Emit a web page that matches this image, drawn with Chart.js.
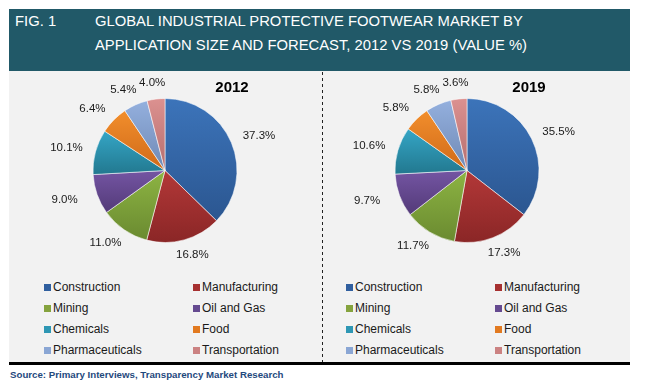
<!DOCTYPE html>
<html>
<head>
<meta charset="utf-8">
<script src="https://cdn.jsdelivr.net/npm/chart.js@4/dist/chart.umd.min.js"></script>
<style>
  html, body { margin: 0; padding: 0; background: #ffffff; }
  body { width: 645px; height: 387px; position: relative; overflow: hidden; font-family: "Liberation Sans", Arial, sans-serif; }
  #header { position: absolute; left: 9px; top: 9px; width: 621px; height: 62px; background: #215968; }
  .htxt { position: absolute; color: #ffffff; font-size: 14.8px; line-height: 16px; white-space: nowrap; }
  #panel { position: absolute; left: 9px; top: 71px; width: 621px; height: 291px; background: #f2f2f2; }
  #divider { position: absolute; left: 322px; top: 72px; width: 1px; height: 290px;
             background: repeating-linear-gradient(to bottom, #222 0px, #222 3px, transparent 3px, transparent 6px); }
  #rule { position: absolute; left: 9px; top: 362px; width: 621px; height: 3px; background: #000; }
  #source { position: absolute; left: 10px; top: 369px; font-size: 9.7px; font-weight: bold; color: #1f497d; white-space: nowrap; line-height: 12px; }
  .year { position: absolute; font-size: 15px; font-weight: bold; color: #000; line-height: 18px; transform: translateX(-50%); }
  .cv { position: absolute; }
  .leg { position: absolute; font-size: 12px; color: #1a1a1a; line-height: 14px; white-space: nowrap; }
  .sq { position: absolute; width: 7px; height: 7px; }
</style>
</head>
<body>
<div id="header">
  <div class="htxt" style="left:6px; top:4px;">FIG. 1</div>
  <div class="htxt" style="left:86px; top:4px;">GLOBAL INDUSTRIAL PROTECTIVE FOOTWEAR MARKET BY</div>
  <div class="htxt" style="left:86px; top:28px;">APPLICATION SIZE AND FORECAST, 2012 VS 2019 (VALUE %)</div>
</div>
<div id="panel"></div>
<div id="divider"></div>
<div id="rule"></div>
<div id="source">Source: Primary Interviews, Transparency Market Research</div>

<canvas id="c2012" class="cv" width="314" height="200" style="left:9px; top:71px; width:314px; height:200px;"></canvas>
<canvas id="c2019" class="cv" width="307" height="200" style="left:323px; top:71px; width:307px; height:200px;"></canvas>
<div id="extras"></div>

<script>
// ---- data ----
const categories = ['Construction', 'Manufacturing', 'Mining', 'Oil and Gas', 'Chemicals', 'Food', 'Pharmaceuticals', 'Transportation'];
const values2012 = [37.3, 16.8, 11.0, 9.0, 10.1, 6.4, 5.4, 4.0];
const values2019 = [35.5, 17.3, 11.7, 9.7, 10.6, 5.8, 5.8, 3.6];
const years = ['2012', '2019'];

// ---- styles ----
const topColors    = ['#3c74ba', '#b33838', '#8db443', '#7455a3', '#35a6c6', '#f28e2c', '#94b0de', '#dc9190'];
const bottomColors = ['#2b5690', '#8a2626', '#6a8a30', '#533a78', '#22788f', '#cf6a19', '#6f89b5', '#b56e6e'];
const legendColors = ['#305f9f', '#a63030', '#85a33e', '#654a90', '#2e97b4', '#e27a20', '#8aa6d4', '#cb8282'];

function sliceGradient(ctx) {
  const i = ctx.dataIndex;
  if (i === undefined) return legendColors[0];
  const chart = ctx.chart, area = chart.chartArea;
  if (!area || !area.width) return legendColors[i];
  const data = ctx.dataset.data;
  const total = data.reduce((a, b) => a + b, 0);
  let cum = 0;
  for (let k = 0; k < i; k++) cum += data[k];
  const a0 = -Math.PI / 2 + 2 * Math.PI * cum / total;
  const a1 = a0 + 2 * Math.PI * data[i] / total;
  const cy = (area.top + area.bottom) / 2;
  const R = Math.min(area.width, area.height) / 2;
  const ys = [cy, cy + R * Math.sin(a0), cy + R * Math.sin(a1)];
  [-Math.PI / 2, Math.PI / 2, 3 * Math.PI / 2].forEach(t => { if (t >= a0 && t <= a1) ys.push(cy + R * Math.sin(t)); });
  const top = Math.min(...ys), bot = Math.max(...ys);
  const g = chart.ctx.createLinearGradient(0, top, 0, bot + 0.01);
  g.addColorStop(0, topColors[i]);
  g.addColorStop(1, bottomColors[i]);
  return g;
}

const outLabels = {
  id: 'outLabels',
  afterDatasetsDraw(chart) {
    const c = chart.ctx;
    const meta = chart.getDatasetMeta(0);
    const data = chart.data.datasets[0].data;
    c.save();
    c.font = '11.5px "Liberation Sans", Arial, sans-serif';
    c.fillStyle = '#1a1a1a';
    c.textAlign = 'center';
    c.textBaseline = 'middle';
    meta.data.forEach((arc, i) => {
      const p = arc.getProps(['x', 'y', 'startAngle', 'endAngle', 'outerRadius'], true);
      const m = (p.startAngle + p.endAngle) / 2;
      const cs = Math.cos(m), sn = Math.sin(m);
      // wider horizontal reach for lower labels, as in the source
      const rx = p.outerRadius + 30 + (sn > 0 ? 10 * sn * (1 - Math.abs(sn)) * 2 : 0);
      const lx = p.x + cs * rx;
      const ly = p.y + sn * (p.outerRadius + 16);
      c.fillText(data[i].toFixed(1) + '%', lx, ly);
    });
    c.restore();
  }
};

function makePie(id, values, pad) {
  return new Chart(document.getElementById(id), {
    type: 'pie',
    data: {
      labels: categories,
      datasets: [{
        data: values,
        backgroundColor: sliceGradient,
        borderColor: 'rgba(255,255,255,0.55)',
        borderWidth: 1
      }]
    },
    options: {
      responsive: false,
      animation: false,
      events: [],
      layout: { padding: pad },
      plugins: { legend: { display: false }, tooltip: { enabled: false }, title: { display: false } }
    },
    plugins: [outLabels]
  });
}

makePie('c2012', values2012, { left: 83.5, right: 85.5, top: 27, bottom: 28 });
makePie('c2019', values2019, { left: 71.5, right: 90.5, top: 27, bottom: 28 });

// titles and legends (HTML, built from the arrays)
const extras = document.getElementById('extras');
const titleX = [232, 529];
years.forEach((y, k) => {
  const d = document.createElement('div');
  d.className = 'year';
  d.style.left = titleX[k] + 'px';
  d.style.top = '78px';
  d.textContent = y;
  extras.appendChild(d);
});
const colX = [[44, 193], [346, 495]];
const rowY = [287, 308, 329, 350];
[0, 1].forEach(p => {
  categories.forEach((name, i) => {
    const col = i % 2, row = Math.floor(i / 2);
    const sx = colX[p][col], cy = rowY[row];
    const sq = document.createElement('div');
    sq.className = 'sq';
    sq.style.left = sx + 'px';
    sq.style.top = (cy - 3.5) + 'px';
    sq.style.background = legendColors[i];
    extras.appendChild(sq);
    const t = document.createElement('div');
    t.className = 'leg';
    t.style.left = (sx + 9) + 'px';
    t.style.top = (cy - 7) + 'px';
    t.textContent = name;
    extras.appendChild(t);
  });
});
</script>
</body>
</html>
